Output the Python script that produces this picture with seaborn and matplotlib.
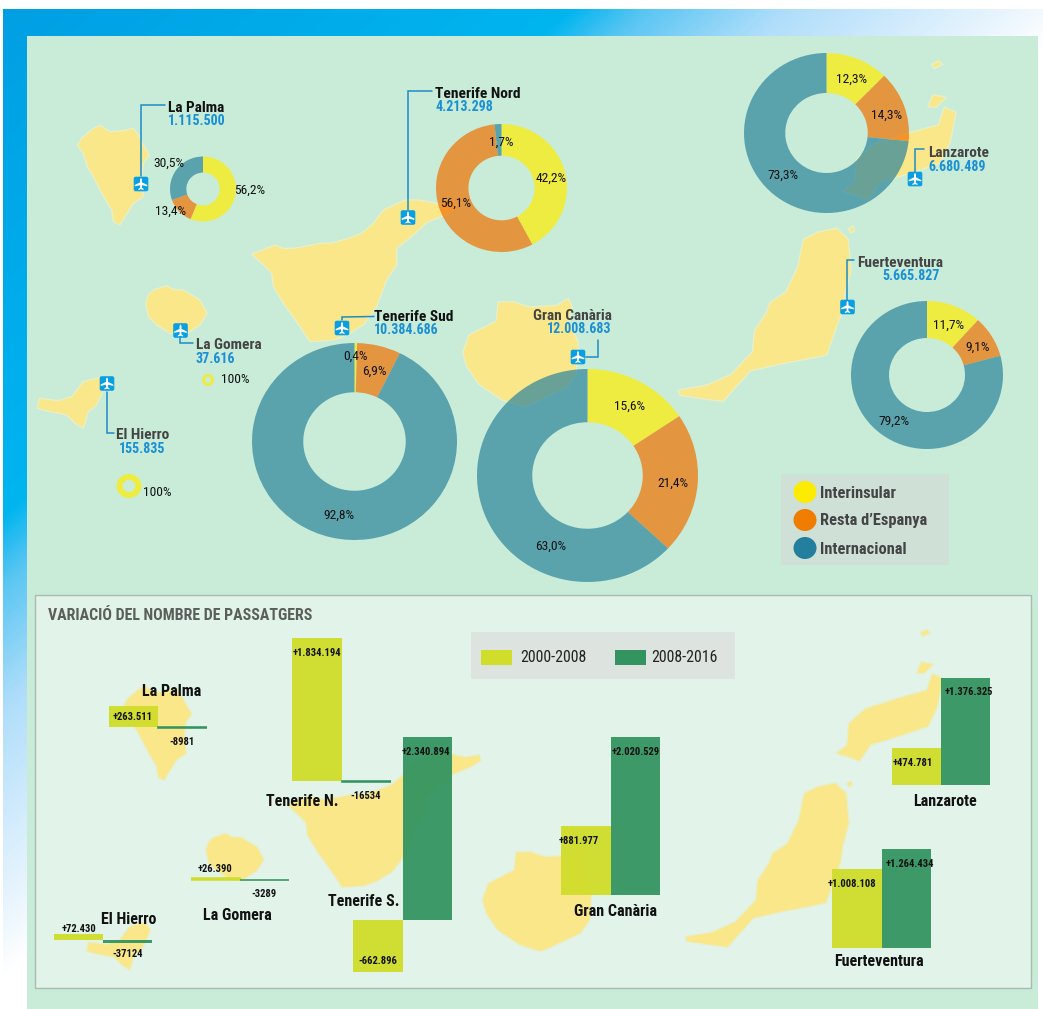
import numpy as np
import pandas as pd
import matplotlib
matplotlib.use("Agg")
import matplotlib.pyplot as plt
import seaborn as sns
from matplotlib import font_manager as fm
from matplotlib.colors import LinearSegmentedColormap
from matplotlib.patches import Polygon, Rectangle, FancyBboxPatch, Ellipse

W, H = 1043, 1009

# ---------- data ----------
AIRPORTS = ["La Palma", "Tenerife Nord", "Lanzarote", "Fuerteventura", "Gran Canària",
            "Tenerife Sud", "La Gomera", "El Hierro"]
TOTALS = ["1.115.500", "4.213.298", "6.680.489", "5.665.827", "12.008.683",
          "10.384.686", "37.616", "155.835"]
INTERINSULAR = [56.2, 42.2, 12.3, 11.7, 15.6, 0.4, 100, 100]
RESTA_ESPANYA = [13.4, 56.1, 14.3, 9.1, 21.4, 6.9, 0, 0]
INTERNACIONAL = [30.5, 1.7, 73.3, 79.2, 63.0, 92.8, 0, 0]

PERIODS = ["2000-2008", "2008-2016"]
GROUPS = ["La Palma", "Tenerife N.", "Tenerife S.", "La Gomera", "El Hierro",
          "Gran Canària", "Lanzarote", "Fuerteventura"]
CHANGE_A = [263511, 1834194, -662896, 26390, 72430, 881977, 474781, 1008108]
CHANGE_B = [-8981, -16534, 2340894, -3289, -37124, 2020529, 1376325, 1264434]
LABEL_A = ["+263.511", "+1.834.194", "-662.896", "+26.390", "+72.430", "+881.977", "+474.781", "+1.008.108"]
LABEL_B = ["-8981", "-16534", "+2.340.894", "-3289", "-37124", "+2.020.529", "+1.376.325", "+1.264.434"]
SHARE_NAMES = ["Interinsular", "Resta d’Espanya", "Internacional"]

# ---------- style ----------
sns.set_theme(style="white")
_installed = {f.name for f in fm.fontManager.ttflist}
_wanted = ["Roboto Condensed", "Archivo Narrow", "Liberation Sans Narrow", "Liberation Sans"]
NARROW = [f for f in _wanted if f in _installed][:1] + ["DejaVu Sans"]
plt.rcParams["font.family"] = NARROW

C_SEA = "#c8ecd8"
C_PANEL = "#e2f3e9"
C_LAND = "#f9e78a"
C_LAND_EDGE = "#e9efc6"
C_BLUE = "#1a8fd6"
C_LINE = "#1f8cc6"
DONUT = ["#ffec00", "#f17000", "#2c849c"]
LEG_DONUT = ["#fdeb00", "#f07d00", "#247f9e"]
C_A, C_B = "#d0dd2a", "#349460"

fig = plt.figure(figsize=(W / 100, H / 100), dpi=100, facecolor="white")


def px_axes(l, t, r, b, z):
    ax = fig.add_axes([l / W, 1 - b / H, (r - l) / W, (b - t) / H], zorder=z)
    ax.patch.set_alpha(0)
    return ax


# ---------- background ----------
bg = px_axes(0, 0, W, H, 0)
xx, yy = np.meshgrid(np.arange(3, W), np.arange(9, H))
t = np.clip((xx + 1.12 * yy) / 1100, 0, 1)
cmap = LinearSegmentedColormap.from_list(
    "frame", [(0, "#009fe3"), (0.527, "#00b5ef"), (0.6, "#5cc6f3"), (0.727, "#b0defa"), (0.945, "#eef7fe"), (1, "#ffffff")])
bg.imshow(t, cmap=cmap, vmin=0, vmax=1, extent=(3, W, H, 9), aspect="auto", interpolation="bilinear")
bg.set_xlim(0, W)
bg.set_ylim(H, 0)
bg.axis("off")
bg.add_patch(Rectangle((27, 36), 1011, 973, fc=C_SEA, ec="none"))
bg.add_patch(Rectangle((34.5, 595), 996.5, 393, fc=C_PANEL, ec="#a9bab0", lw=1.0))


# ---------- islands: outlines ----------
def z1(pts):
    return [(x / 3, y / 3) for x, y in pts]


def z5(pts):
    return [(x / 3, y / 3 + 280) for x, y in pts]


def low_to_up(pts, dx, dy):
    return [((x / 2.69 + 460 - dx) / 0.95, (y / 3 + 590 - dy) / 0.95) for x, y in pts]


LA_PALMA = z1([(232, 435), (245, 415), (262, 400), (280, 385), (300, 376), (330, 395), (365, 392), (400, 385), (415, 405),
               (425, 425), (448, 465), (430, 490), (425, 530), (430, 590), (400, 610), (385, 635), (375, 650), (360, 675), (340, 665),
               (335, 630), (300, 570), (280, 530), (262, 500), (250, 460)])
TENERIFE = z1([(755, 762), (825, 735), (850, 745), (880, 745), (920, 738), (960, 730), (1000, 728), (1045, 715), (1085, 700),
               (1120, 670), (1150, 630), (1215, 600), (1260, 600), (1320, 612), (1365, 605), (1368, 625), (1335, 645), (1280, 668),
               (1240, 705), (1190, 745), (1190, 795), (1160, 840), (1130, 920), (1090, 975), (1040, 1005),
               (1000, 1020), (930, 1025), (900, 980), (850, 910), (820, 860), (815, 820), (785, 790)])
GOMERA = z1([(437, 910), (445, 885), (460, 870), (500, 857), (520, 868), (550, 870), (600, 900), (622, 940), (600, 975),
             (555, 1005), (510, 1000), (470, 975), (445, 950)])
HIERRO = z5([(112, 385), (118, 355), (175, 362), (215, 350), (250, 305), (300, 292), (315, 320), (290, 375), (265, 395),
             (250, 445), (225, 430), (200, 405), (150, 395)])
GRAN_C = low_to_up([(60, 930), (75, 880), (145, 840), (150, 785), (190, 785), (230, 800), (300, 795), (330, 775), (340, 800),
                    (330, 840), (355, 900), (350, 990), (325, 1030), (240, 1075), (215, 1085), (160, 1065), (100, 1020), (70, 970)],
                   42.6, 565)
LANZ = low_to_up([(1010, 490), (1040, 465), (1045, 400), (1090, 355), (1190, 320), (1255, 300), (1270, 250), (1300, 265),
                  (1285, 350), (1260, 410), (1180, 440), (1105, 465), (1075, 515), (1040, 500)], 35, 571.6)
LANZ_ISLET_1 = low_to_up([(1237, 128), (1255, 118), (1266, 128), (1245, 140)], 35, 571.6)
LANZ_ISLET_2 = low_to_up([(1228, 250), (1240, 215), (1275, 222), (1250, 250)], 35, 571.6)
FUERTE = low_to_up([(605, 1040), (680, 1025), (740, 995), (795, 930), (800, 870), (830, 820), (840, 790), (880, 760),
                    (910, 690), (925, 610), (960, 590), (1010, 578), (1040, 610), (1047, 700), (1030, 770), (1025, 815),
                    (1010, 860), (985, 940), (940, 950), (870, 965), (790, 985), (720, 1072), (670, 1065), (610, 1055)], 40.7, 566)
FUERTE_ISLET = low_to_up([(1040, 580), (1052, 572), (1056, 585), (1046, 592)], 40.7, 566)

SHAPES = [(LA_PALMA, 50.2, 566.9), (TENERIFE, 47.6, 563.1), (GOMERA, 67.3, 561.8), (HIERRO, 50.9, 563.4),
          (GRAN_C, 42.6, 565), (LANZ, 35, 571.6), (LANZ_ISLET_1, 35, 571.6), (LANZ_ISLET_2, 35, 571.6),
          (FUERTE, 40.7, 566), (FUERTE_ISLET, 40.7, 566)]
for pts, dx, dy in SHAPES:
    arr = np.array(pts)
    bg.add_patch(Polygon(arr, closed=True, fc=C_LAND, ec=C_LAND_EDGE, lw=1.0, joinstyle="round"))
    bg.add_patch(Polygon(arr * 0.95 + [dx, dy], closed=True, fc=C_LAND, ec=C_LAND_EDGE, lw=1.0, joinstyle="round"))

# ---------- donuts ----------
DONUT_GEOM = [  # cx, cy, rx, ry, inner ratio
    (203, 189, 33, 32.5, 0.505), (501.5, 188, 65.5, 64, 0.505), (826.5, 133, 82.5, 80, 0.5),
    (927, 375, 76, 74, 0.5), (587.5, 475.5, 110.5, 106.5, 0.5), (354.5, 441.5, 102.5, 98.5, 0.5),
    (208, 380, 6, 6, 0.5), (129, 486, 12.5, 12, 0.5)]
for i, (cx, cy, rx, ry, ratio) in enumerate(DONUT_GEOM):
    a = px_axes(cx - rx, cy - ry, cx + rx, cy + ry, 2)
    vals = [INTERINSULAR[i], RESTA_ESPANYA[i], INTERNACIONAL[i]]
    a.pie(vals, colors=DONUT, startangle=90, counterclock=False, radius=1,
          wedgeprops=dict(width=1 - ratio, alpha=0.7, linewidth=0, edgecolor="none"))
    a.set_aspect("auto")
    a.set_xlim(-1, 1)
    a.set_ylim(-1, 1)
    a.axis("off")

# ---------- bars ----------
SCALE = 7.8e-5  # pixels per passenger
BAR_GEOM = [  # left, right, baseline
    (109, 207, 727), (292, 391, 781), (353, 452, 920), (191, 289, 880), (54, 152, 940),
    (561, 660, 895), (892, 990, 785), (832, 931, 948)]
for i, (l, r, base) in enumerate(BAR_GEOM):
    vals = [CHANGE_A[i], CHANGE_B[i]]
    top = base - max(max(vals), 0) * SCALE - 6
    bot = base - min(min(vals), 0) * SCALE + 6
    a = px_axes(l, top, r, bot, 3)
    df = pd.DataFrame({"periode": PERIODS, "canvi": vals})
    sns.barplot(df, x="periode", y="canvi", hue="periode", palette=[C_A, C_B], width=1, saturation=1,
                legend=False, alpha=0.95, linewidth=0, edgecolor="none", ax=a)
    a.set_xlim(-0.5, 1.5)
    a.set_ylim((base - bot) / SCALE, (base - top) / SCALE)
    for p in a.patches:
        h = abs(p.get_height())
        if 0 < h < 30000:
            p.set_edgecolor(p.get_facecolor())
            p.set_linewidth(1.2)
    a.axis("off")

# ---------- overlay (icons, lines, texts) ----------
ov = px_axes(0, 0, W, H, 5)
ov.set_xlim(0, W)
ov.set_ylim(H, 0)
ov.axis("off")

LEADERS = [
    [(141, 176), (141, 105), (165, 105)], [(408, 210), (408, 91), (432, 91)],
    [(915, 172), (915, 149), (924, 149)], [(847, 300), (847, 260), (854, 260)],
    [(586, 357), (598, 357), (598, 340)], [(342, 320), (342, 317), (374, 316.5)],
    [(180, 338), (180, 343), (193, 343)], [(107, 392), (107, 433), (114, 433)]]
for pts in LEADERS:
    arr = np.array(pts)
    ov.plot(arr[:, 0], arr[:, 1], color=C_LINE, lw=1.1, solid_joinstyle="miter")

PLANE = np.array([(0, -6.2), (0.9, -4.8), (1.0, -1.6), (6.3, 1.0), (6.3, 2.4), (1.0, 1.2), (0.8, 3.6), (2.6, 5.0), (2.6, 6.0),
                  (0, 5.2), (-2.6, 6.0), (-2.6, 5.0), (-0.8, 3.6), (-1.0, 1.2), (-6.3, 2.4), (-6.3, 1.0), (-1.0, -1.6), (-0.9, -4.8)])
ICONS = [(141, 184), (408, 217.5), (915, 179), (847.5, 307), (578, 357), (342, 328), (180.5, 330.5), (107, 383.5)]
for x, y in ICONS:
    ov.add_patch(FancyBboxPatch((x - 6.5, y - 6.5), 13, 13, boxstyle="round,pad=0.8,rounding_size=2",
                                fc="#0a9fe3", ec="none"))
    ov.add_patch(Polygon(PLANE + [x, y], closed=True, fc="white", ec="none"))

NAME_POS = [(168, 108, "left", "#111111"), (435, 94, "left", "#111111"), (928, 153, "left", "#444444"),
            (857, 263, "left", "#444444"), (533, 316, "left", "#444444"), (374, 317, "left", "#111111"),
            (196, 345, "left", "#444444"), (116, 435, "left", "#444444")]
TOTAL_POS = [(168, 121, "left"), (435, 107, "left"), (928, 167, "left"), (882, 276, "left"), (547, 329, "left"),
             (374, 330, "left"), (196, 359, "left"), (119, 449, "left")]
for name, total, (x, y, ha, col), (tx, ty, tha) in zip(AIRPORTS, TOTALS, NAME_POS, TOTAL_POS):
    ov.text(x, y, name, fontsize=11.1, fontweight="bold", color=col, ha=ha, va="center")
    ov.text(tx, ty, total, fontsize=10.1, fontweight="bold", color=C_BLUE, ha=tha, va="center")


def pct(v):
    return (f"{v:.1f}%".replace(".", ",")) if v != 100 else "100%"


PCT_POS = [
    [(250, 190.5), (171, 211), (169, 163.5)], [(551.5, 178), (456, 203), (501, 142)],
    [(852, 79.5), (887, 115), (783, 175)], [(949, 325), (978, 347), (894, 421)],
    [(630, 406), (673, 483), (551, 546)], [(356, 356.5), (374, 371), (339, 515)],
    [(235, 379.5), None, None], [(157, 492), None, None]]
for i, positions in enumerate(PCT_POS):
    for v, pos in zip((INTERINSULAR[i], RESTA_ESPANYA[i], INTERNACIONAL[i]), positions):
        if pos is not None:
            ov.text(pos[0], pos[1], pct(v), fontsize=9.7, color="#111111", ha="center", va="center")

# share legend
ov.add_patch(FancyBboxPatch((783, 476), 164, 87, boxstyle="round,pad=2,rounding_size=2", fc="#cfe0d6", ec="none"))
for name, col, y in zip(SHARE_NAMES, LEG_DONUT, (492, 520, 548)):
    ov.add_patch(Ellipse((805, y), 23, 22, fc=col, ec="none"))
    ov.text(820, y + 1, name, fontsize=11.8, fontweight="bold", color="#444444", ha="left", va="center")

# variation panel texts
ov.text(48, 616, "VARIACIÓ DEL NOMBRE DE PASSATGERS", fontsize=11.4, fontweight="bold", color="#5a5f5b", ha="left", va="center")
ov.add_patch(FancyBboxPatch((472, 633), 262, 45, boxstyle="round,pad=1,rounding_size=1", fc="#dde3df", ec="none"))
for name, col, sx, tx in zip(PERIODS, (C_A, C_B), (481, 615), (520, 651)):
    ov.add_patch(Rectangle((sx, 650), 31, 15, fc=col, ec="none"))
    ov.text(tx, 658, name, fontsize=11.4, color="#222222", ha="left", va="center")

GROUP_POS = [(171.5, 692), (302, 801), (364, 902), (237, 916), (129, 920), (616, 911), (945, 802), (879, 961)]
LABEL_A_POS = [(133, 717), (317, 653), (378, 961), (215, 869), (79, 929), (579, 841), (913, 763), (852, 884)]
LABEL_B_POS = [(182, 742), (366, 796), (426, 752), (264, 894), (128, 954), (636, 752), (969, 692), (910, 864)]
for name, p in zip(GROUPS, GROUP_POS):
    ov.text(p[0], p[1], name, fontsize=11.5, fontweight="bold", color="#111111", ha="center", va="center")
for lab, p in zip(LABEL_A + LABEL_B, LABEL_A_POS + LABEL_B_POS):
    ov.text(p[0], p[1], lab, fontsize=7.6, fontweight="bold", color="#111111", ha="center", va="center")

fig.savefig("out.png", dpi=100)
